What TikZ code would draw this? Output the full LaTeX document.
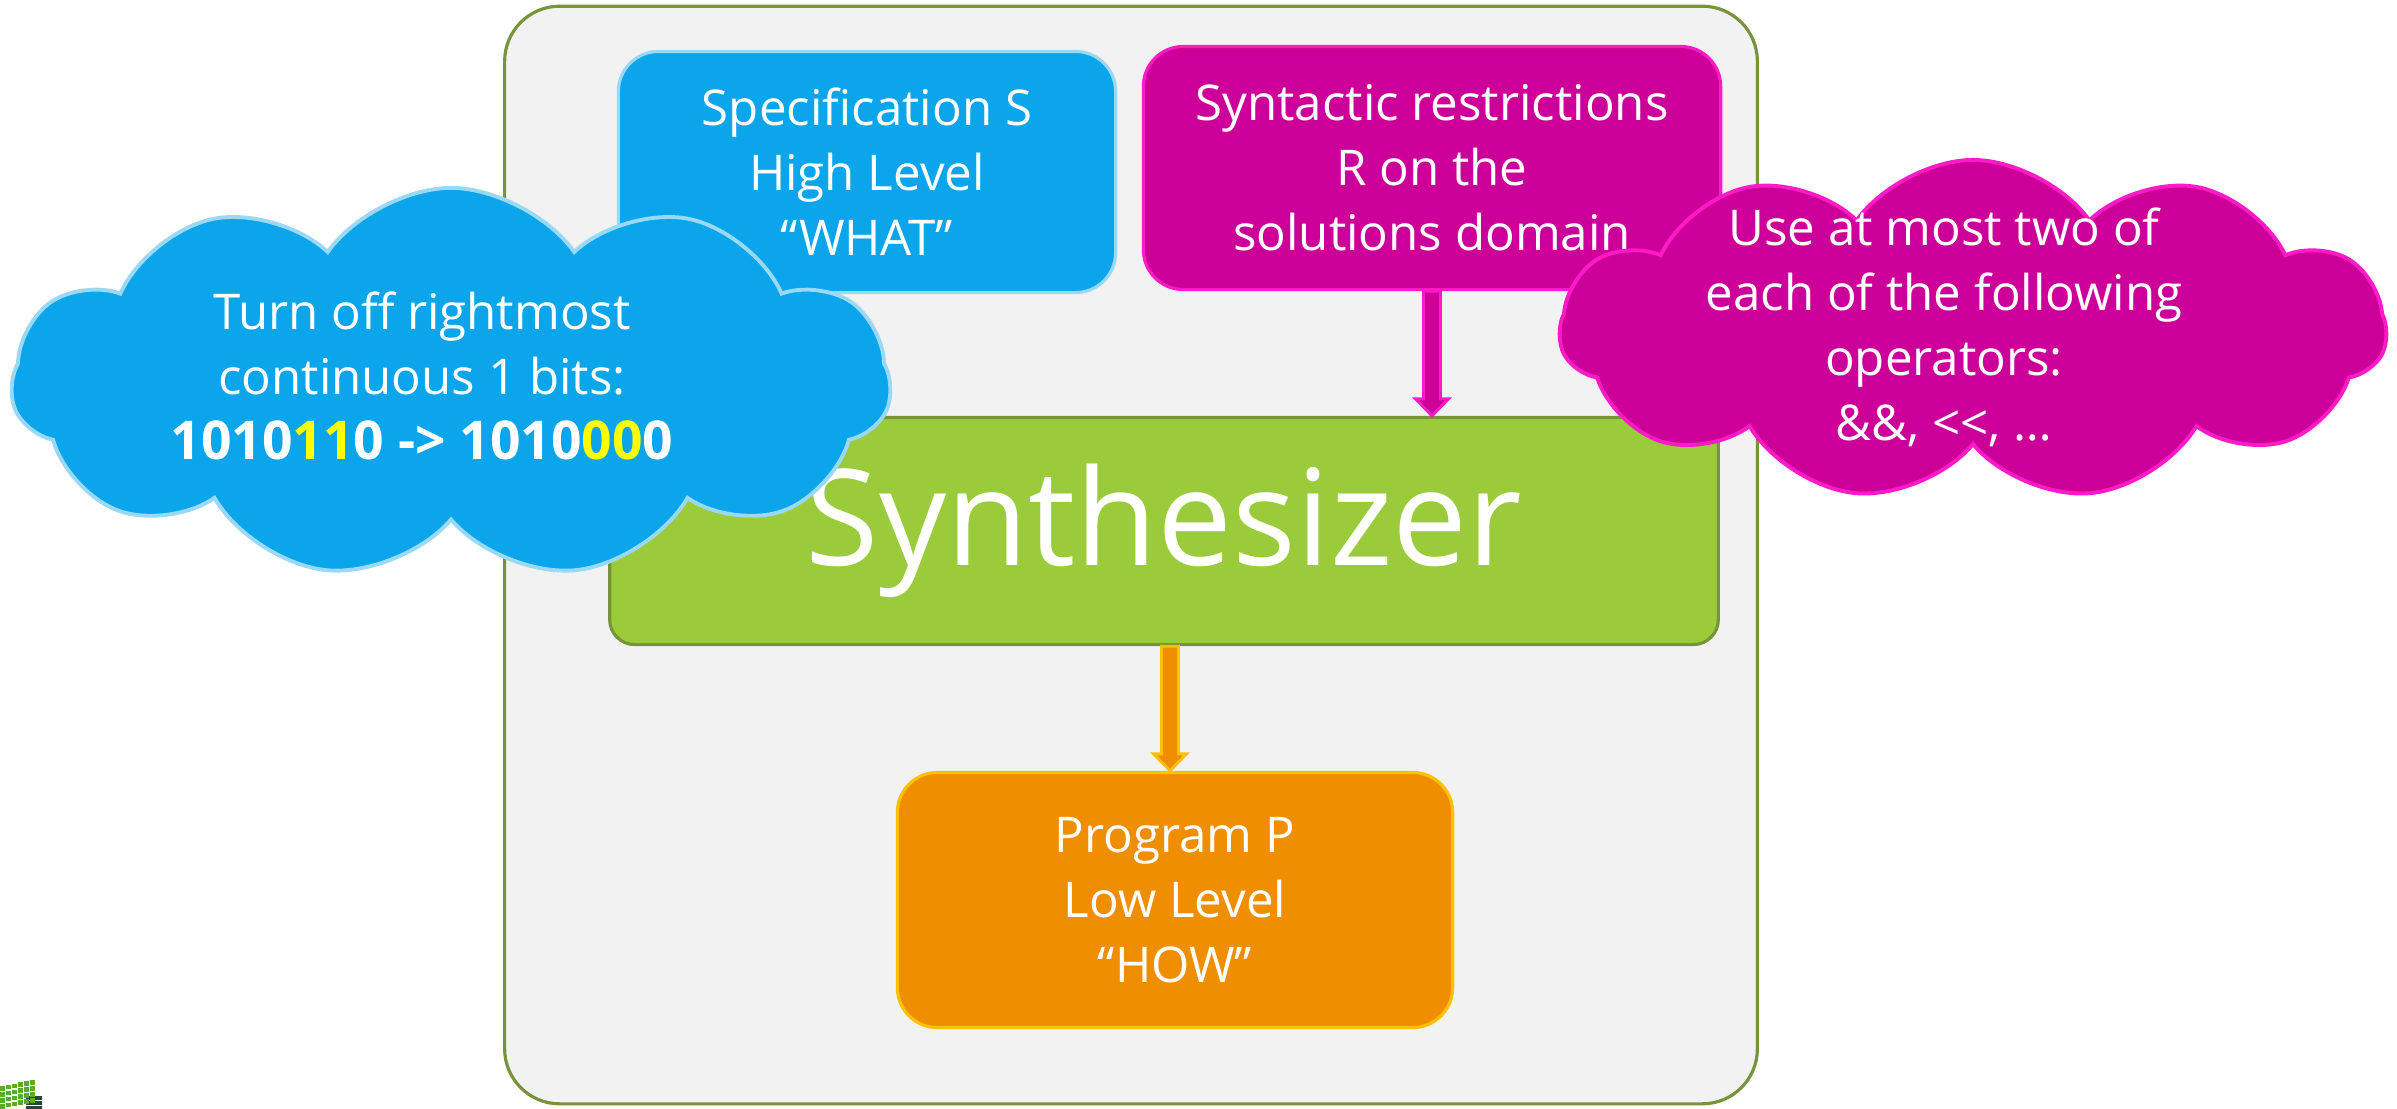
\documentclass[tikz,border=0pt]{standalone}
\usepackage{fontspec}
\setmainfont{Open Sans}
\usepackage{xcolor}
\usepackage{tikz}
\usetikzlibrary{positioning, calc, shapes.symbols}

\definecolor{panelfill}{HTML}{F2F2F2}
\definecolor{panelline}{HTML}{77933C}
\definecolor{specblue}{HTML}{0AA5EB}
\definecolor{specline}{HTML}{9AD8F4}
\definecolor{restrpink}{HTML}{CC0099}
\definecolor{restrline}{HTML}{FF1AC8}
\definecolor{synthgreen}{HTML}{9ACB3B}
\definecolor{progorange}{HTML}{EE8E00}
\definecolor{progline}{HTML}{FFC000}
\definecolor{bitmark}{HTML}{FFFF00}
\definecolor{logodark}{HTML}{24483A}
\definecolor{logogreen}{HTML}{5FA82E}

\tikzset{
  box/.style={draw, rounded corners=0.4cm, line width=0.9pt, inner sep=0pt},
  cloudbox/.style={cloud, cloud puffs=11, cloud puff arc=110, inner sep=0pt, line width=1.1pt},
  blockarrow/.style={line width=0.8pt, line join=miter, to path={
    ($(\tikztostart)+(-8.5,0)$) -- ($(\tikztotarget)+(-8.5,-17)$) -- ($(\tikztotarget)+(-16.5,-17)$)
    -- (\tikztotarget) -- ($(\tikztotarget)+(16.5,-17)$) -- ($(\tikztotarget)+(8.5,-17)$)
    -- ($(\tikztostart)+(8.5,0)$) -- cycle}}
}

\begin{document}
\begin{tikzpicture}[x=0.01cm, y=-0.01cm, every node/.style={font=\fontsize{14}{18.5}\selectfont, text=white, align=center}]
    \useasboundingbox (0,0) rectangle (2397,1108);

    % frame and boxes
    \node[box, rounded corners=0.55cm, fill=panelfill, draw=panelline, minimum width=12.52cm, minimum height=10.97cm] (panel) at (1131,555) {};
    \node[box, fill=specblue, draw=specline, minimum width=4.97cm, minimum height=2.41cm] (spec) at (867,172) {Specification S\\High Level\\“WHAT”};
    \node[box, fill=restrpink, draw=restrline, minimum width=5.77cm, minimum height=2.43cm] (restr) at (1432,168) {Syntactic restrictions\\R on the\\solutions domain};
    \node[box, rounded corners=0.25cm, fill=synthgreen, draw=panelline, minimum width=11.08cm, minimum height=2.27cm, font=\fontsize{38}{40}\selectfont] (synth) at (1164,531) {Synthesizer};
    \node[box, fill=progorange, draw=progline, minimum width=5.55cm, minimum height=2.55cm] (prog) at (1175,900) {Program P\\Low Level\\“HOW”};

    % arrows
    \draw[blockarrow, fill=restrpink, draw=restrline] (restr.south) to (restr.south |- synth.north);
    \coordinate (o1) at ($(synth.south)+(6,0)$);
    \coordinate (o2) at (o1 |- prog.north);
    \draw[blockarrow, fill=progorange, draw=progline] (o1) to (o2);

    % clouds
    \node[cloudbox, aspect=2.25, fill=specblue, draw=specline, minimum width=8.79cm, minimum height=3.9cm] (hintcloud) at (451,383) {};
    \node (hinttext) at (422,376) {Turn off rightmost\\continuous 1 bits:\\{\fontsize{15.2}{18.5}\selectfont\bfseries 1010\textcolor{bitmark}{11}0 -> 1010\textcolor{bitmark}{00}0}};
    \node[cloudbox, aspect=2.4, fill=restrpink, draw=restrline, minimum width=8.26cm, minimum height=3.4cm] (rulecloud) at (1973,330) {};
    \node (ruletext) at (1944,327) {Use at most two of\\each of the following\\operators:\\\&\&, {<}{<}, …};

    % logo corner
    \begin{scope}
      \clip (0,1080) rectangle (42,1108);
      \foreach \i in {0,...,5}{
        \foreach \j in {0,...,3}{
          \fill[logogreen] (\i*6, 1086+\j*6-\i*1.2) rectangle ++(4.5,4.5);
          \fill[logodark] (26+\i*3, 1096+\j*5) rectangle ++(3.5,3.5);
        }
      }
    \end{scope}
\end{tikzpicture}
\end{document}
